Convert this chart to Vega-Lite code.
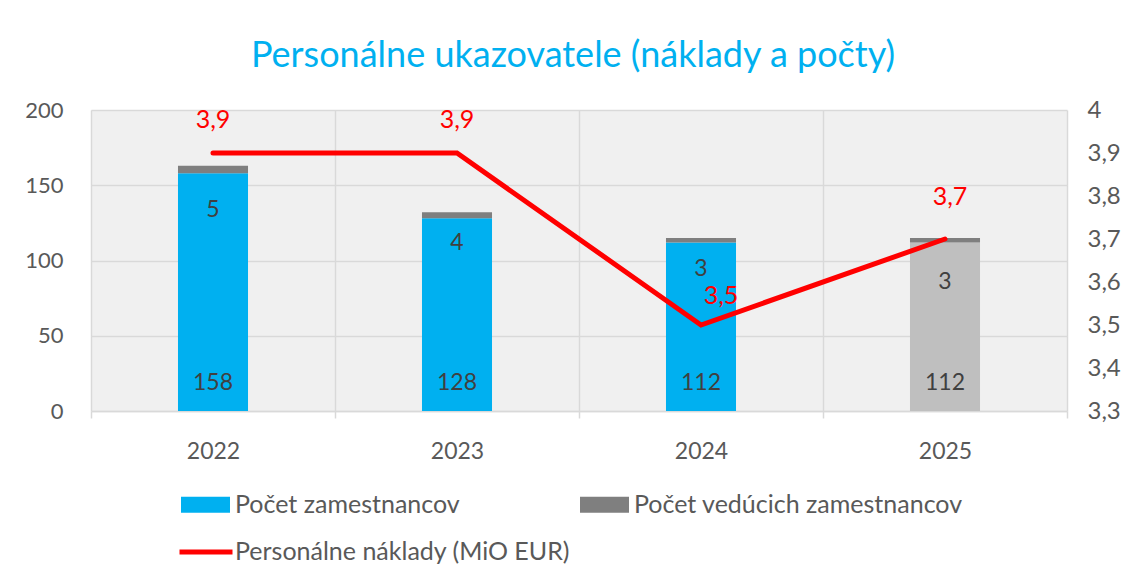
{
  "$schema": "https://vega.github.io/schema/vega-lite/v6.json",
  "autosize": {"type": "none"},
  "width": 976,
  "height": 301,
  "padding": {"left": 91, "top": 110, "right": 65, "bottom": 167},
  "background": "#ffffff",
  "title": {
    "text": "Personálne ukazovatele (náklady a počty)",
    "font": "Lato",
    "fontSize": 36,
    "fontWeight": "normal",
    "color": "#00B0F0",
    "anchor": "middle",
    "frame": "group",
    "baseline": "alphabetic",
    "offset": -5,
    "dx": -6
  },
  "datasets": {
    "bars": [
      {"year": "2022", "series": "Počet zamestnancov", "kind": "zam", "poradie": 1, "value": 158},
      {"year": "2022", "series": "Počet vedúcich zamestnancov", "kind": "ved", "poradie": 2, "value": 5},
      {"year": "2023", "series": "Počet zamestnancov", "kind": "zam", "poradie": 1, "value": 128},
      {"year": "2023", "series": "Počet vedúcich zamestnancov", "kind": "ved", "poradie": 2, "value": 4},
      {"year": "2024", "series": "Počet zamestnancov", "kind": "zam", "poradie": 1, "value": 112},
      {"year": "2024", "series": "Počet vedúcich zamestnancov", "kind": "ved", "poradie": 2, "value": 3},
      {"year": "2025", "series": "Počet zamestnancov (2025)", "kind": "zam", "poradie": 1, "value": 112},
      {"year": "2025", "series": "Počet vedúcich zamestnancov", "kind": "ved", "poradie": 2, "value": 3}
    ],
    "costs": [
      {"year": "2022", "series": "Personálne náklady (MiO EUR)", "cost": 3.9},
      {"year": "2023", "series": "Personálne náklady (MiO EUR)", "cost": 3.9},
      {"year": "2024", "series": "Personálne náklady (MiO EUR)", "cost": 3.5},
      {"year": "2025", "series": "Personálne náklady (MiO EUR)", "cost": 3.7}
    ]
  },
  "layer": [
    {
      "data": {"name": "bars"},
      "layer": [
        {
          "mark": {"type": "bar", "width": {"band": 0.287}},
          "encoding": {
            "x": {
              "field": "year", "type": "nominal", "title": null,
              "scale": {"paddingInner": 0, "paddingOuter": 0},
              "axis": {
                "labelAngle": 0, "labelPadding": 22, "labelFontSize": 23, "domain": true, "domainColor": "#d9d9d9", "domainWidth": 1.5,
                "ticks": true, "tickBand": "extent", "tickColor": "#d9d9d9", "tickWidth": 1.5, "tickSize": 7,
                "grid": true, "gridColor": "#d9d9d9", "gridWidth": 1.5
              }
            },
            "y": {
              "field": "value", "type": "quantitative", "stack": "zero", "title": null,
              "scale": {"domain": [0, 200], "nice": false},
              "axis": {"orient": "left", "values": [0, 50, 100, 150, 200], "labelPadding": 28, "grid": true, "gridColor": "#d9d9d9", "gridWidth": 1.5}
            },
            "order": {"field": "poradie", "type": "quantitative"},
            "color": {
              "field": "series", "type": "nominal",
              "scale": {
                "domain": ["Počet zamestnancov", "Počet vedúcich zamestnancov", "Počet zamestnancov (2025)"],
                "range": ["#00B0F0", "#7F7F7F", "#BFBFBF"]
              },
              "legend": {
                "orient": "none", "legendX": 90, "legendY": 370, "direction": "horizontal", "columns": 2,
                "columnPadding": 120, "symbolType": "M-1,-0.3265H1V0.3265H-1Z", "symbolSize": 2401,
                "symbolStrokeWidth": 0, "labelOffset": 5,
                "values": ["Počet zamestnancov", "Počet vedúcich zamestnancov"]
              }
            }
          }
        },
        {
          "transform": [{"filter": "datum.kind == 'zam'"}],
          "mark": {"type": "text", "dy": -28, "baseline": "middle", "fontSize": 23, "color": "#404040", "font": "Lato"},
          "encoding": {
            "x": {"field": "year", "type": "nominal"},
            "y": {"datum": 0, "type": "quantitative"},
            "text": {"field": "value", "type": "quantitative"}
          }
        },
        {
          "transform": [
            {"stack": "value", "groupby": ["year"], "sort": [{"field": "poradie", "order": "ascending"}], "as": ["v0", "v1"]},
            {"filter": "datum.kind == 'ved' && (datum.year == '2022' || datum.year == '2025')"}
          ],
          "mark": {"type": "text", "dy": 44, "baseline": "middle", "fontSize": 23, "color": "#404040", "font": "Lato"},
          "encoding": {
            "x": {"field": "year", "type": "nominal"},
            "y": {"field": "v1", "type": "quantitative"},
            "text": {"field": "value", "type": "quantitative"}
          }
        },
        {
          "transform": [
            {"stack": "value", "groupby": ["year"], "sort": [{"field": "poradie", "order": "ascending"}], "as": ["v0", "v1"]},
            {"filter": "datum.kind == 'ved' && (datum.year == '2023' || datum.year == '2024')"}
          ],
          "mark": {"type": "text", "dy": 31, "baseline": "middle", "fontSize": 23, "color": "#404040", "font": "Lato"},
          "encoding": {
            "x": {"field": "year", "type": "nominal"},
            "y": {"field": "v1", "type": "quantitative"},
            "text": {"field": "value", "type": "quantitative"}
          }
        }
      ]
    },
    {
      "data": {"name": "costs"},
      "layer": [
        {
          "mark": {"type": "line", "strokeWidth": 5, "strokeCap": "round", "strokeJoin": "miter"},
          "encoding": {
            "x": {"field": "year", "type": "nominal"},
            "y": {
              "field": "cost", "type": "quantitative", "title": null,
              "scale": {"domain": [3.3, 4], "nice": false, "zero": false},
              "axis": {"orient": "right", "values": [3.3, 3.4, 3.5, 3.6, 3.7, 3.8, 3.9, 4], "format": ".2~f", "labelPadding": 20, "labelFontSize": 24, "grid": false}
            },
            "stroke": {
              "field": "series", "type": "nominal",
              "scale": {"range": ["#FF0000"]},
              "legend": {
                "orient": "none", "legendX": 86, "legendY": 413, "symbolType": "stroke", "symbolSize": 2809,
                "symbolStrokeWidth": 5, "labelOffset": 0
              }
            }
          }
        },
        {
          "transform": [{"filter": "datum.year == '2022' || datum.year == '2023'"}],
          "mark": {"type": "text", "dy": -33, "baseline": "middle", "fontSize": 25, "color": "#FF0000", "font": "Lato"},
          "encoding": {
            "x": {"field": "year", "type": "nominal"},
            "y": {"field": "cost", "type": "quantitative"},
            "text": {"field": "cost", "type": "quantitative", "format": ".1f"}
          }
        },
        {
          "transform": [{"filter": "datum.year == '2024'"}],
          "mark": {"type": "text", "dx": 20, "dy": -29, "baseline": "middle", "fontSize": 25, "color": "#FF0000", "font": "Lato"},
          "encoding": {
            "x": {"field": "year", "type": "nominal"},
            "y": {"field": "cost", "type": "quantitative"},
            "text": {"field": "cost", "type": "quantitative", "format": ".1f"}
          }
        },
        {
          "transform": [{"filter": "datum.year == '2025'"}],
          "mark": {"type": "text", "dx": 5, "dy": -42, "baseline": "middle", "fontSize": 25, "color": "#FF0000", "font": "Lato"},
          "encoding": {
            "x": {"field": "year", "type": "nominal"},
            "y": {"field": "cost", "type": "quantitative"},
            "text": {"field": "cost", "type": "quantitative", "format": ".1f"}
          }
        }
      ]
    }
  ],
  "resolve": {"scale": {"y": "independent"}},
  "config": {
    "font": "Lato",
    "locale": {
      "number": {"decimal": ",", "thousands": " ", "grouping": [3], "currency": ["", " €"]}
    },
    "view": {"fill": "#f0f0f0", "stroke": null},
    "axis": {
      "labelFont": "Lato", "labelFontSize": 22, "labelColor": "#595959",
      "domain": false, "ticks": false, "title": null
    },
    "legend": {
      "labelFont": "Lato", "labelFontSize": 25, "labelColor": "#595959", "padding": 0, "title": null, "labelLimit": 400
    }
  }
}
